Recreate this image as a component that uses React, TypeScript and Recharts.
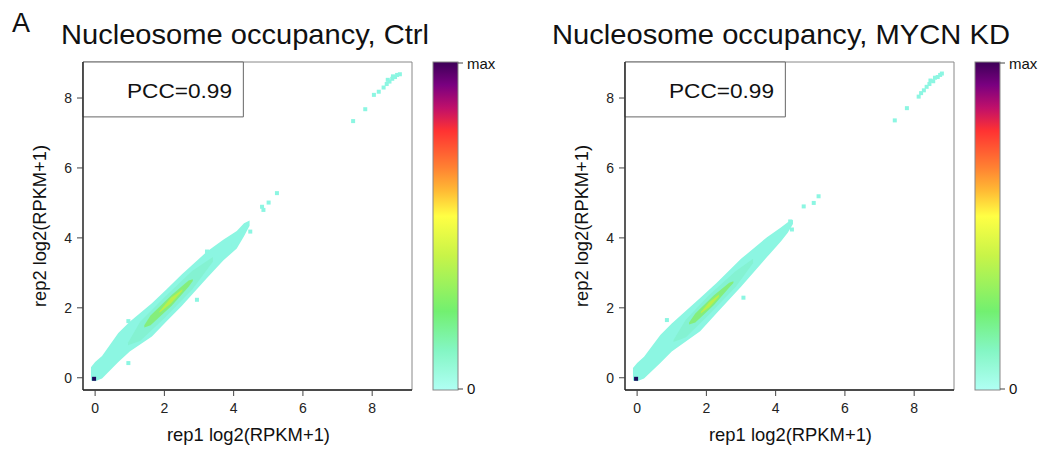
import { Area, ComposedChart, ReferenceArea, Scatter, XAxis, YAxis } from "recharts";

type Band = [number, number, number][]; // [x, low, high]
type Pt = { x: number; y: number };

const xTicks = [0, 2, 4, 6, 8];
const yTicks = [0, 2, 4, 6, 8];
const FONT = "'Liberation Sans', Arial, Helvetica, sans-serif";

// ---- Ctrl panel, density band edges ----
const ctrlOuter: Band = [
  [-0.12, -0.08, 0.3],
  [0, -0.1, 0.45],
  [0.2, -0.02, 0.62],
  [0.67, 0.45, 1.28],
  [1.0, 0.75, 1.6],
  [1.64, 1.18, 2.13],
  [2.05, 1.6, 2.52],
  [2.5, 2.05, 2.95],
  [3.23, 2.85, 3.61],
  [3.7, 3.35, 3.95],
  [4.09, 3.7, 4.2],
  [4.3, 4.05, 4.42],
  [4.46, 4.35, 4.5],
];
const ctrlMid: Band = [
  [0.95, 0.93, 1.0],
  [1.3, 1.05, 1.6],
  [2.02, 1.72, 2.32],
  [2.8, 2.52, 3.05],
  [3.4, 3.32, 3.45],
];
const ctrlCore: Band = [
  [1.42, 1.44, 1.5],
  [1.6, 1.5, 1.78],
  [2.21, 2.06, 2.37],
  [2.7, 2.6, 2.78],
  [2.82, 2.77, 2.82],
];
const ctrlPeak: Band = [
  [1.86, 1.86, 1.9],
  [2.18, 2.12, 2.28],
  [2.52, 2.48, 2.53],
];
const ctrlDots: Pt[] = [
  { x: 0.96, y: 1.62 }, { x: 0.96, y: 0.42 }, { x: 2.94, y: 2.23 }, { x: 3.23, y: 3.61 },
  { x: 3.99, y: 3.8 }, { x: 4.48, y: 4.18 }, { x: 4.82, y: 4.89 }, { x: 4.86, y: 4.8 },
  { x: 5.01, y: 5.01 }, { x: 5.25, y: 5.28 }, { x: 7.45, y: 7.34 }, { x: 7.8, y: 7.68 },
  { x: 8.05, y: 8.09 }, { x: 8.19, y: 8.18 }, { x: 8.33, y: 8.3 }, { x: 8.42, y: 8.4 },
  { x: 8.45, y: 8.52 }, { x: 8.5, y: 8.47 }, { x: 8.58, y: 8.55 }, { x: 8.6, y: 8.62 },
  { x: 8.66, y: 8.6 }, { x: 8.72, y: 8.66 }, { x: 8.8, y: 8.68 },
];

// ---- MYCN KD panel ----
const kdOuter: Band = [
  [-0.12, -0.08, 0.28],
  [0, -0.1, 0.42],
  [0.2, -0.02, 0.6],
  [0.67, 0.42, 1.22],
  [1.0, 0.75, 1.55],
  [1.82, 1.33, 2.28],
  [2.3, 1.85, 2.72],
  [3.0, 2.6, 3.4],
  [3.75, 3.45, 4.02],
  [4.15, 3.9, 4.3],
  [4.35, 4.15, 4.45],
  [4.5, 4.4, 4.52],
];
const kdMid: Band = [
  [1.05, 1.02, 1.08],
  [1.4, 1.15, 1.65],
  [2.05, 1.78, 2.34],
  [2.85, 2.6, 3.05],
  [3.35, 3.28, 3.4],
];
const kdCore: Band = [
  [1.5, 1.52, 1.58],
  [1.68, 1.58, 1.84],
  [2.22, 2.08, 2.36],
  [2.66, 2.58, 2.72],
  [2.78, 2.71, 2.76],
];
const kdPeak: Band = [
  [1.84, 1.84, 1.88],
  [2.08, 2.02, 2.16],
  [2.36, 2.32, 2.38],
];
const kdDots: Pt[] = [
  { x: 0.86, y: 1.65 }, { x: 3.07, y: 2.29 }, { x: 4.47, y: 4.24 }, { x: 4.42, y: 4.47 },
  { x: 4.81, y: 4.9 }, { x: 5.1, y: 5.0 }, { x: 5.24, y: 5.19 }, { x: 7.44, y: 7.36 },
  { x: 7.79, y: 7.71 }, { x: 8.13, y: 8.04 }, { x: 8.2, y: 8.14 }, { x: 8.28, y: 8.22 },
  { x: 8.36, y: 8.32 }, { x: 8.44, y: 8.4 }, { x: 8.47, y: 8.5 }, { x: 8.55, y: 8.48 },
  { x: 8.6, y: 8.58 }, { x: 8.68, y: 8.6 }, { x: 8.75, y: 8.66 }, { x: 8.8, y: 8.7 },
];

const originDot: Pt[] = [{ x: -0.03, y: -0.03 }];

const CYAN = "#8cf6e2";
const MID = "#84f2d2";
const GREEN = "#84ee7c";
const PEAK = "#b9f04c";

function buildTable(layers: Record<string, Band>) {
  const rows = new Map<number, any>();
  Object.entries(layers).forEach(([key, band]) => {
    band.forEach(([x, lo, hi]) => {
      const row = rows.get(x) ?? { x };
      row[key] = [lo, hi];
      rows.set(x, row);
    });
  });
  return [...rows.values()].sort((a, b) => a.x - b.x);
}

const cell = (fill: string, s = 4) => (p: any) => (
  <rect x={p.cx - s / 2} y={p.cy - s / 2} width={s} height={s} fill={fill} />
);

const tickStyle = { fill: "#222", fontSize: 14, fontFamily: FONT };

function Panel(props: {
  left: number;
  width: number;
  outer: Band;
  mid: Band;
  core: Band;
  peak: Band;
  dots: Pt[];
}) {
  const table = buildTable({ outer: props.outer, mid: props.mid, core: props.core, peak: props.peak });
  const layers: [string, string][] = [
    ["outer", CYAN],
    ["mid", MID],
    ["core", GREEN],
    ["peak", PEAK],
  ];
  return (
    <div style={{ position: "absolute", left: props.left, top: 0 }}>
      <ComposedChart
        width={props.width}
        height={452}
        data={table}
        margin={{ top: 62, right: props.width - 412, bottom: 32, left: 53 }}
      >
        <XAxis
          type="number"
          dataKey="x"
          domain={[-0.35, 9.15]}
          ticks={xTicks}
          allowDataOverflow
          height={30}
          tickSize={6}
          tickMargin={7}
          axisLine={{ stroke: "#222", strokeWidth: 1.3 }}
          tickLine={{ stroke: "#444" }}
          tick={tickStyle}
        />
        <YAxis
          type="number"
          domain={[-0.35, 9.03]}
          ticks={yTicks}
          allowDataOverflow
          width={30}
          tickSize={6}
          tickMargin={5}
          axisLine={{ stroke: "#222", strokeWidth: 1.3 }}
          tickLine={{ stroke: "#444" }}
          tick={tickStyle}
        />
        <ReferenceArea x1={-0.35} x2={9.15} y1={-0.35} y2={9.03} fill="none" stroke="#888" strokeWidth={1} />
        {layers.map(([key, color]) => (
          <Area
            key={key}
            dataKey={key}
            type="linear"
            stroke="none"
            fill={color}
            fillOpacity={1}
            connectNulls
            dot={false}
            activeDot={false}
            isAnimationActive={false}
          />
        ))}
        <Scatter data={props.dots} dataKey="y" shape={cell(CYAN)} isAnimationActive={false} />
        <Scatter data={originDot} dataKey="y" shape={cell("#1b0a5c")} isAnimationActive={false} />
        <ReferenceArea x1={-0.35} x2={4.28} y1={7.46} y2={9.03} fill="#fff" fillOpacity={1} stroke="#666" strokeWidth={1} />
      </ComposedChart>
    </div>
  );
}

function Texts(props: { dx: number; title: string; titleX: number; titleLen: number }) {
  const { dx } = props;
  return (
    <g fontFamily={FONT} fill="#111">
      <text x={props.titleX} y={44} fontSize={28} textLength={props.titleLen} lengthAdjust="spacingAndGlyphs">
        {props.title}
      </text>
      <text x={127 + dx} y={98} fontSize={21} textLength={105} lengthAdjust="spacingAndGlyphs">
        PCC=0.99
      </text>
      <text x={167 + dx} y={441} fontSize={19} textLength={163} lengthAdjust="spacingAndGlyphs">
        rep1 log2(RPKM+1)
      </text>
      <text
        transform={`translate(${46 + dx},307) rotate(-90)`}
        fontSize={19}
        textLength={162}
        lengthAdjust="spacingAndGlyphs"
      >
        rep2 log2(RPKM+1)
      </text>
      <rect x={433 + dx} y={62} width={25} height={328} fill="url(#cbar)" stroke="#888" strokeWidth={1} />
      <line x1={458 + dx} y1={63} x2={463 + dx} y2={63} stroke="#444" />
      <line x1={458 + dx} y1={389} x2={463 + dx} y2={389} stroke="#444" />
      <text x={467 + dx} y={69} fontSize={15}>max</text>
      <text x={467 + dx} y={394} fontSize={15}>0</text>
    </g>
  );
}

export default function App() {
  return (
    <div style={{ position: "fixed", left: 0, top: 0, width: 1041, height: 452, background: "#fff" }}>
      <Panel left={0} width={520} outer={ctrlOuter} mid={ctrlMid} core={ctrlCore} peak={ctrlPeak} dots={ctrlDots} />
      <Panel left={542} width={499} outer={kdOuter} mid={kdMid} core={kdCore} peak={kdPeak} dots={kdDots} />
      <svg
        width={1041}
        height={452}
        style={{ position: "absolute", left: 0, top: 0, pointerEvents: "none" }}
      >
        <defs>
          <linearGradient id="cbar" x1="0" y1="0" x2="0" y2="1">
            <stop offset="0%" stopColor="#3d0057" />
            <stop offset="7%" stopColor="#7a0080" />
            <stop offset="14%" stopColor="#c0106a" />
            <stop offset="21%" stopColor="#ff3232" />
            <stop offset="32%" stopColor="#ff8032" />
            <stop offset="39%" stopColor="#ffb834" />
            <stop offset="47%" stopColor="#ffff44" />
            <stop offset="59%" stopColor="#c8f448" />
            <stop offset="76%" stopColor="#72f070" />
            <stop offset="88%" stopColor="#84f6c4" />
            <stop offset="100%" stopColor="#b0fff4" />
          </linearGradient>
        </defs>
        <text x={12} y={32} fontSize={27} fontFamily={FONT} fill="#111">A</text>
        <Texts dx={0} title="Nucleosome occupancy, Ctrl" titleX={61} titleLen={368} />
        <Texts dx={542} title="Nucleosome occupancy, MYCN KD" titleX={552} titleLen={458} />
      </svg>
    </div>
  );
}
